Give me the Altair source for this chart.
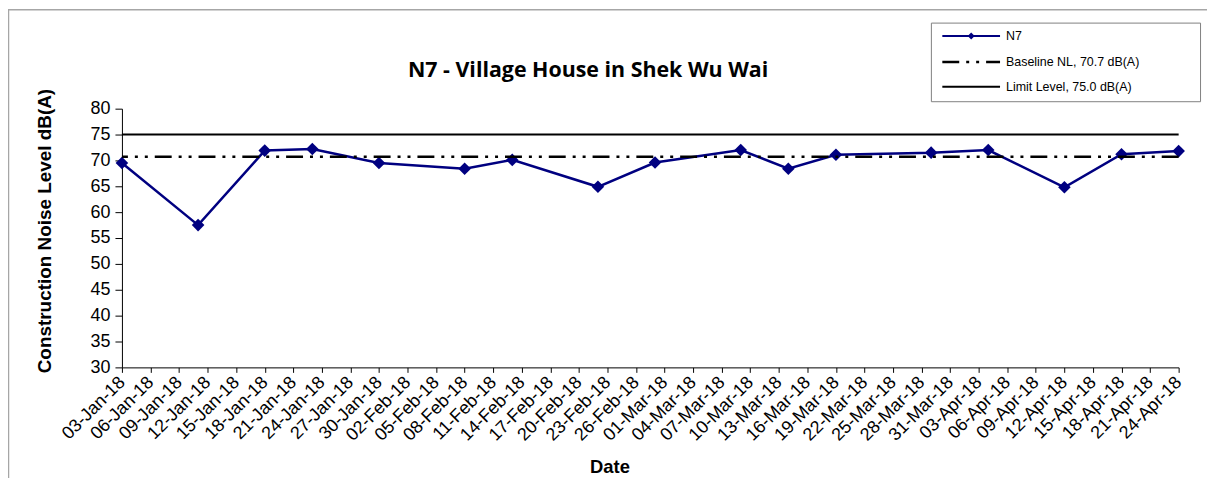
import altair as alt
import pandas as pd

# ---- data -------------------------------------------------------------
dates = ["2018-01-03", "2018-01-11", "2018-01-18", "2018-01-23", "2018-01-30",
         "2018-02-08", "2018-02-13", "2018-02-22", "2018-02-28", "2018-03-09",
         "2018-03-14", "2018-03-19", "2018-03-29", "2018-04-04", "2018-04-12",
         "2018-04-18", "2018-04-24"]
levels = [69.5, 57.5, 71.9, 72.2, 69.5, 68.4, 70.1, 64.9, 69.6, 72.0,
          68.4, 71.1, 71.5, 72.0, 64.8, 71.2, 71.8]

tick_dates = ["2018-01-03", "2018-01-06", "2018-01-09", "2018-01-12", "2018-01-15",
              "2018-01-18", "2018-01-21", "2018-01-24", "2018-01-27", "2018-01-30",
              "2018-02-02", "2018-02-05", "2018-02-08", "2018-02-11", "2018-02-14",
              "2018-02-17", "2018-02-20", "2018-02-23", "2018-02-26", "2018-03-01",
              "2018-03-04", "2018-03-07", "2018-03-10", "2018-03-13", "2018-03-16",
              "2018-03-19", "2018-03-22", "2018-03-25", "2018-03-28", "2018-03-31",
              "2018-04-03", "2018-04-06", "2018-04-09", "2018-04-12", "2018-04-15",
              "2018-04-18", "2018-04-21", "2018-04-24"]
y_ticks = [30, 35, 40, 45, 50, 55, 60, 65, 70, 75, 80]

baseline_level = [70.7]
limit_level = [75.0]
legend_labels = ["N7", "Baseline NL, 70.7 dB(A)", "Limit Level,  75.0 dB(A)"]
title_text = "N7 - Village House in Shek Wu Wai"
y_title = "Construction Noise Level  dB(A)"
x_title = "Date"


def dt(s):
    y, m, d = (int(p) for p in s.split("-"))
    return alt.DateTime(year=y, month=m, date=d, utc=True)


W, H = 1062, 260
FONT = "Liberation Sans"
NAVY = "#000080"
DASH = [17, 7, 3, 7, 3, 7]

df = pd.DataFrame({"date": dates, "level": levels})
dummy = pd.DataFrame({"a": [0]})

x_scale = alt.Scale(type="utc", domain=[dt(tick_dates[0]), dt(tick_dates[-1])], nice=False)
x_axis = alt.Axis(
    values=[dt(t) for t in tick_dates],
    labelExpr="utcFormat(datum.value, '%d-%b-%y')",
    labelAngle=-45, labelAlign="right", labelBaseline="middle",
    labelFontSize=18, labelFont=FONT, labelColor="black", labelPadding=7,
    tickSize=5, tickColor="black", domainColor="black", grid=False,
    title=None, labelOverlap=False, labelBound=False, labelFlush=False,
)
y_scale = alt.Scale(domain=[30, 80], nice=False, zero=False)
y_axis = alt.Axis(
    values=y_ticks, labelFontSize=18, labelFont=FONT, labelColor="black",
    labelPadding=5, tickSize=7, tickColor="black", domainColor="black",
    grid=False, title=None,
)


def X(field):
    return alt.X(field, scale=x_scale, axis=x_axis)


def Y(field):
    return alt.Y(field, scale=y_scale, axis=y_axis)


border = alt.Chart(dummy).mark_rect(filled=False, stroke="#a6a6a6", strokeWidth=1.5).encode(
    x=alt.value(-114), x2=alt.value(1200), y=alt.value(-99.5), y2=alt.value(500)
)

line = alt.Chart(df).mark_line(color=NAVY, strokeWidth=2.5).encode(x=X("date:T"), y=Y("level:Q"))
points = alt.Chart(df).mark_point(shape="diamond", filled=True, size=160,
                                  color=NAVY, opacity=1).encode(x=X("date:T"), y=Y("level:Q"))
limit_rule = alt.Chart(pd.DataFrame({"v": limit_level})).mark_rule(
    color="black", strokeWidth=2).encode(y=Y("v:Q"))
base_rule = alt.Chart(pd.DataFrame({"v": baseline_level})).mark_rule(
    color="black", strokeWidth=2.5, strokeDash=DASH).encode(y=Y("v:Q"))

title = alt.Chart(dummy).mark_text(font="Open Sans", fontSize=21.5, fontWeight="bold",
                                   align="center", baseline="alphabetic", color="black").encode(
    x=alt.value(468.5), y=alt.value(-32), text=alt.value(title_text))
ytitle = alt.Chart(dummy).mark_text(font=FONT, fontSize=19, fontWeight="bold", angle=270,
                                    align="center", baseline="middle", color="black").encode(
    x=alt.value(-77.5), y=alt.value(123), text=alt.value(y_title))
xtitle = alt.Chart(dummy).mark_text(font=FONT, fontSize=18.5, fontWeight="bold",
                                    align="center", baseline="middle", color="black").encode(
    x=alt.value(490.5), y=alt.value(360), text=alt.value(x_title))

LX0, LX1 = 813.5, 1084
leg_box = alt.Chart(dummy).mark_rect(fill="white", stroke="#808080", strokeWidth=1).encode(
    x=alt.value(LX0), x2=alt.value(LX1), y=alt.value(-86), y2=alt.value(-7))
rows_y = [-73, -47, -22]
leg_layers = []
leg_layers.append(alt.Chart(dummy).mark_rule(color=NAVY, strokeWidth=2).encode(
    x=alt.value(824.5), x2=alt.value(882.5), y=alt.value(rows_y[0])))
leg_layers.append(alt.Chart(dummy).mark_point(shape="diamond", filled=True, size=50,
                                              color=NAVY, opacity=1).encode(
    x=alt.value(853.5), y=alt.value(rows_y[0])))
leg_layers.append(alt.Chart(dummy).mark_rule(color="black", strokeWidth=2.5, strokeDash=DASH).encode(
    x=alt.value(824.5), x2=alt.value(882.5), y=alt.value(rows_y[1])))
leg_layers.append(alt.Chart(dummy).mark_rule(color="black", strokeWidth=2).encode(
    x=alt.value(824.5), x2=alt.value(882.5), y=alt.value(rows_y[2])))
for lbl, ry in zip(legend_labels, rows_y):
    leg_layers.append(alt.Chart(dummy).mark_text(font=FONT, fontSize=12.5, align="left",
                                                 baseline="middle", color="black").encode(
        x=alt.value(888.5), y=alt.value(ry), text=alt.value(lbl)))

chart = alt.layer(
    line, points, limit_rule, base_rule, border, title, ytitle, xtitle, leg_box, *leg_layers
).properties(
    width=W, height=H,
    autosize=alt.AutoSizeParams(type="none"),
    padding={"left": 114.5, "top": 100, "right": 28.5, "bottom": 110},
    background="white",
).configure_view(stroke=None)

chart.save("out.html", embed_options={"renderer": "svg", "actions": False})
